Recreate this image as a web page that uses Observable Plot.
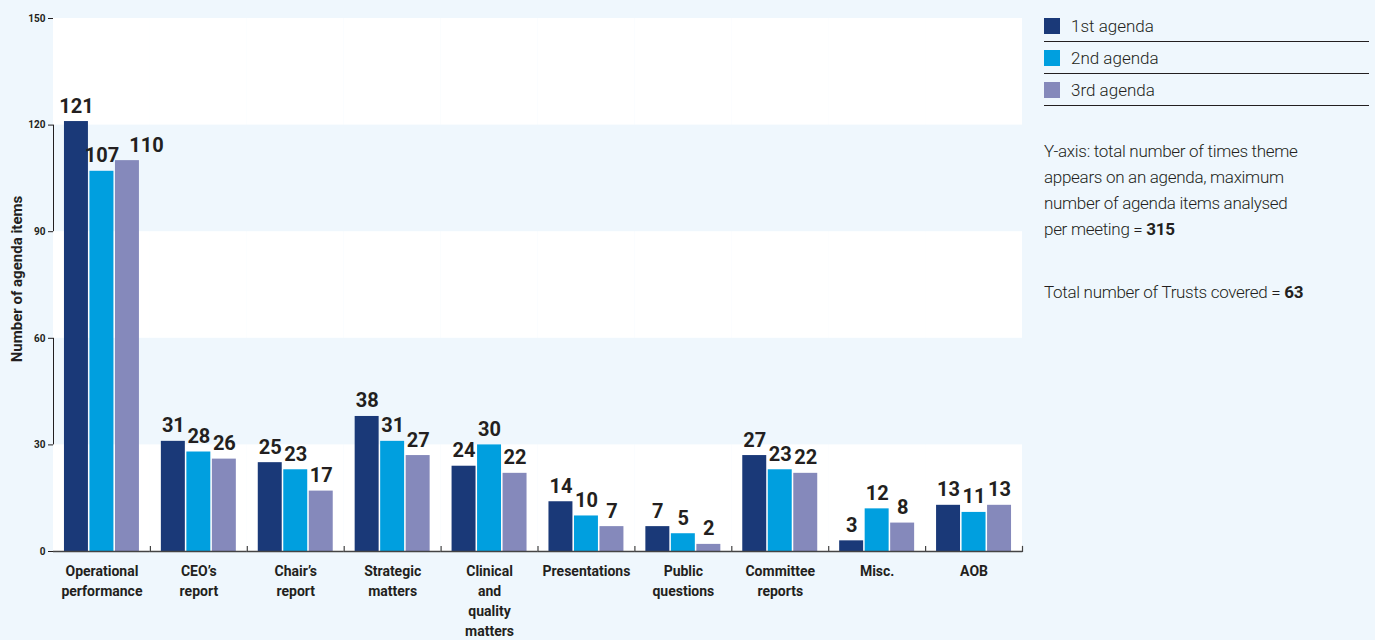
<!DOCTYPE html>
<html>
<head>
<meta charset="utf-8">
<script src="https://cdn.jsdelivr.net/npm/d3@7"></script>
<script src="https://cdn.jsdelivr.net/npm/@observablehq/plot@0.6"></script>
<style>
  html, body { margin: 0; padding: 0; background: #eff7fd; }
  #wrap { position: relative; width: 1375px; height: 640px; overflow: hidden; font-family: Roboto, "Noto Sans", sans-serif; color: #231f20; }
  #chart { position: absolute; left: 0; top: 0; }
  #legend { position: absolute; left: 1044px; top: 10px; width: 325px; }
  .row { display: flex; align-items: center; height: 31px; border-bottom: 1.3px solid #231f20; font-size: 17px; font-weight: 300; }
  .sw { width: 16px; height: 16px; margin-right: 11px; }
  .note { font-size: 17px; letter-spacing: -0.3px; font-weight: 300; line-height: 26px; margin: 32px 0 0 0; }
  .note2 { margin-top: 37px; }
  .note b { font-weight: 700; }
</style>
</head>
<body>
<div id="wrap">
  <div id="chart"></div>
  <div id="legend"></div>
</div>
<script>
const categories = ["Operational performance", "CEO’s report", "Chair’s report", "Strategic matters", "Clinical and quality matters", "Presentations", "Public questions", "Committee reports", "Misc.", "AOB"];
const categoryLabels = ["Operational\nperformance", "CEO’s\nreport", "Chair’s\nreport", "Strategic\nmatters", "Clinical\nand\nquality\nmatters", "Presentations", "Public\nquestions", "Committee\nreports", "Misc.", "AOB"];
const series = ["1st agenda", "2nd agenda", "3rd agenda"];
const firstAgenda  = [121, 31, 25, 38, 24, 14, 7, 27, 3, 13];
const secondAgenda = [107, 28, 23, 31, 30, 10, 5, 23, 12, 11];
const thirdAgenda  = [110, 26, 17, 27, 22, 7, 2, 22, 8, 13];
const colors = ["#1a3978", "#009fdf", "#8589bb"];
const yTicks = [0, 30, 60, 90, 120, 150];
const bands = [[0, 30], [60, 90], [120, 150]];
const yLabel = "Number of agenda items";

const seriesValues = [firstAgenda, secondAgenda, thirdAgenda];
const data = [];
categories.forEach((c, i) => series.forEach((s, j) => {
  const v = seriesValues[j][i];
  const prev = j > 0 ? seriesValues[j - 1][i] : null;
  // a wide (3-digit) label next to another wide label of similar height would collide: nudge it right
  const crowded = prev !== null && v >= 100 && prev >= 100 && Math.abs(v - prev) < 10;
  data.push({category: c, series: s, value: v, crowded});
}));
const labelOf = new Map(categories.map((c, i) => [c, categoryLabels[i]]));

const W = 1030, H = 640, mT = 18, mB = 89, mL = 53, mR = 8;
const innerH = H - mT - mB;
const font = "Roboto, 'Noto Sans', sans-serif";
const valueText = {fx: "category", x: "series", y: "value", text: d => String(d.value), lineAnchor: "bottom", dy: -9, fontSize: 20, fontWeight: "bold", fill: "#231f20"};

const chart = Plot.plot({
  width: W, height: H,
  marginTop: mT, marginBottom: mB, marginLeft: mL, marginRight: mR,
  style: {background: "transparent", fontFamily: font, fontSize: "10px", fontWeight: "bold", color: "#231f20"},
  fx: {domain: categories, padding: 0, round: false, axis: null},
  x: {domain: series, paddingInner: 0.06, paddingOuter: 0.43, round: false, axis: null},
  y: {domain: [0, 150], ticks: yTicks, tickSize: 5, tickPadding: 3, line: true, label: null},
  color: {domain: series, range: colors},
  marks: [
    Plot.rectY(bands, {y1: d => d[0], y2: d => d[1], fill: "white"}),
    Plot.barY(data, {fx: "category", x: "series", y: "value", fill: "series"}),
    Plot.text(data.filter(d => !d.crowded), valueText),
    Plot.text(data.filter(d => d.crowded), {...valueText, dx: 19}),
    Plot.ruleY([0], {stroke: "#444", strokeWidth: 1.5}),
    Plot.frame({anchor: "right", insetTop: innerH - 5, stroke: "#444", strokeWidth: 1.2}),
    Plot.text(categories, {fx: d => d, text: d => labelOf.get(d), frameAnchor: "bottom", lineAnchor: "top", dy: 10, fontSize: 14, fontWeight: "bold", lineHeight: 1.43, fill: "#231f20"}),
    Plot.text([yLabel], {fx: () => categories[0], text: d => d, frameAnchor: "left", textAnchor: "middle", rotate: -90, dx: -36, dy: -6, fontSize: 15, fontWeight: "bold", fill: "#231f20"})
  ]
});
document.getElementById("chart").appendChild(chart);

const legend = document.getElementById("legend");
series.forEach((s, i) => {
  const row = document.createElement("div");
  row.className = "row";
  const sw = document.createElement("div");
  sw.className = "sw";
  sw.style.background = colors[i];
  const t = document.createElement("span");
  t.textContent = s;
  row.appendChild(sw); row.appendChild(t);
  legend.appendChild(row);
});
const p1 = document.createElement("p");
p1.className = "note";
p1.innerHTML = "Y-axis: total number of times theme<br>appears on an agenda, maximum<br>number of agenda items analysed<br>per meeting = <b>315</b>";
const p2 = document.createElement("p");
p2.className = "note note2";
p2.innerHTML = "Total number of Trusts covered = <b>63</b>";
legend.appendChild(p1); legend.appendChild(p2);
</script>
</body>
</html>
